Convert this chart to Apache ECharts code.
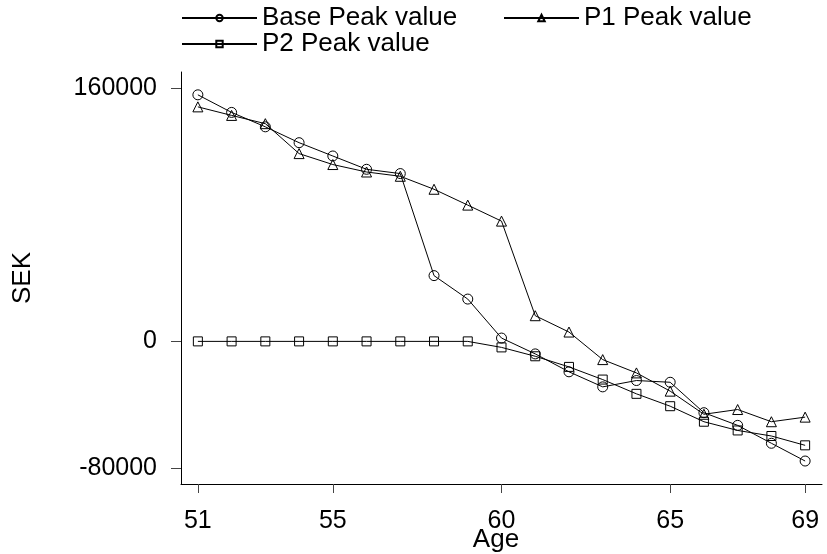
<!DOCTYPE html>
<html>
<head>
<meta charset="utf-8">
<script src="https://cdn.jsdelivr.net/npm/echarts@6/dist/echarts.min.js"></script>
<style>
  html, body { margin: 0; padding: 0; background: #fff; }
  #chart { width: 827px; height: 554px; }
</style>
</head>
<body>
<div id="chart"></div>
<script>
// Peak values (SEK) by age for the three scenarios
const ages = [51, 52, 53, 54, 55, 56, 57, 58, 59, 60, 61, 62, 63, 64, 65, 66, 67, 68, 69];
const basePeak = [155600, 144500, 135400, 125400, 117000, 108600, 105900, 41500, 26700, 2100,
                  -7900, -19200, -28700, -24700, -25800, -45000, -53000, -64300, -75500];
const p1Peak = [148000, 142600, 137400, 118500, 111600, 106900, 104200, 96000, 86000, 75900,
                16200, 5900, -11500, -19900, -31400, -46000, -43000, -50700, -47800];
const p2Peak = [0, 0, 0, 0, 0, 0, 0, 0, 0, -3800,
                -9400, -16100, -24100, -33100, -40900, -50700, -56200, -59700, -65600];

const xTicks = [51, 55, 60, 65, 69];
const yTicks = [-80000, 0, 160000];

const FONT = '"Liberation Sans", Arial, Helvetica, sans-serif';

function pairs(values) {
  return ages.map((a, i) => [a, values[i]]);
}

function lineSeries(name, symbol, size, values) {
  return {
    name: name,
    type: 'line',
    data: pairs(values),
    symbol: symbol,
    symbolSize: size,
    showAllSymbol: true,
    lineStyle: { color: '#000', width: 1 },
    itemStyle: { color: 'rgba(255,255,255,0)', borderColor: '#000', borderWidth: 1 },
    emphasis: { disabled: true }
  };
}

function legendItem(name, left, top) {
  return {
    data: [name],
    left: left,
    top: top,
    orient: 'horizontal',
    itemWidth: 75,
    itemHeight: 8,
    padding: 0,
    selectedMode: false,
    textStyle: { fontFamily: FONT, fontSize: 26, color: '#000' }
  };
}

const plain = v => String(v);

const chart = echarts.init(document.getElementById('chart'), null, { renderer: 'canvas' });

chart.setOption({
  animation: false,
  backgroundColor: '#fff',
  legend: [
    legendItem('Base Peak value', 181, 5),
    legendItem('P1 Peak value', 503, 5),
    legendItem('P2 Peak value', 181, 31)
  ],
  grid: { left: 181, right: 5, top: 72, bottom: 70, containLabel: false },
  xAxis: {
    type: 'value',
    min: 50.5,
    max: 69.5,
    splitLine: { show: false },
    axisLine: { show: true, onZero: false, lineStyle: { color: '#000', width: 1 } },
    axisTick: { show: true, length: 9, customValues: xTicks, lineStyle: { color: '#444', width: 1 } },
    axisLabel: { customValues: xTicks, formatter: plain, margin: 25, fontFamily: FONT, fontSize: 25, color: '#000' }
  },
  yAxis: {
    type: 'value',
    min: -90000,
    max: 170000,
    splitLine: { show: false },
    axisLine: { show: true, onZero: false, lineStyle: { color: '#000', width: 1 } },
    axisTick: { show: true, length: 10, customValues: yTicks, lineStyle: { color: '#444', width: 1 } },
    axisLabel: { customValues: yTicks, formatter: plain, margin: 24, fontFamily: FONT, fontSize: 25, color: '#000' }
  },
  graphic: [
    {
      type: 'text',
      x: 23, y: 278,
      rotation: Math.PI / 2,
      style: { text: 'SEK', fontFamily: FONT, fontSize: 26, fill: '#000', align: 'center', verticalAlign: 'middle' }
    },
    {
      type: 'text',
      x: 496, y: 540,
      style: { text: 'Age', fontFamily: FONT, fontSize: 26, fill: '#000', align: 'center', verticalAlign: 'middle' }
    }
  ],
  series: [
    lineSeries('Base Peak value', 'circle', 10, basePeak),
    lineSeries('P1 Peak value', 'triangle', 10, p1Peak),
    lineSeries('P2 Peak value', 'rect', 9, p2Peak)
  ]
});
</script>
</body>
</html>
